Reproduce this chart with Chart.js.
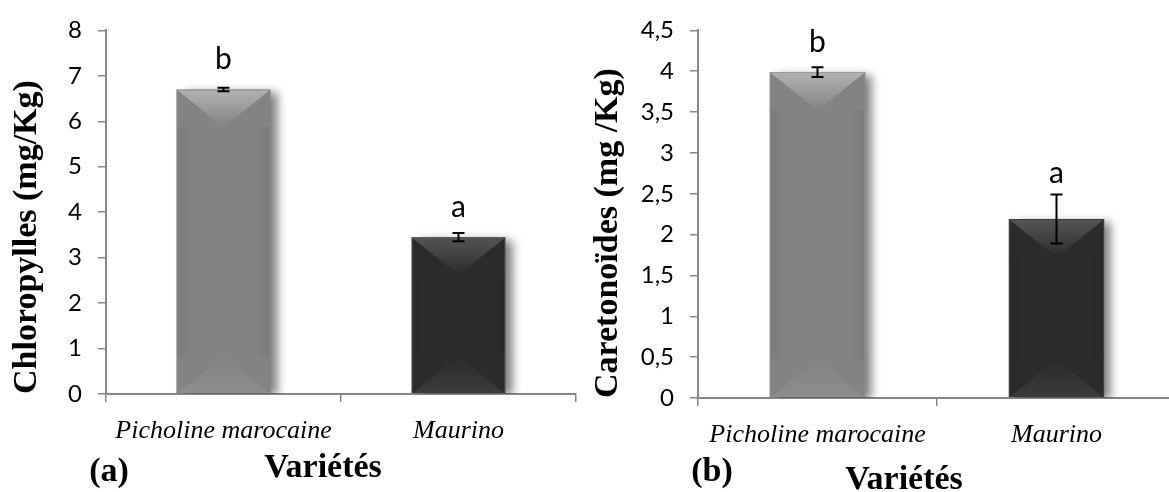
<!DOCTYPE html>
<html>
<head>
<meta charset="utf-8">
<script src="https://cdn.jsdelivr.net/npm/chart.js@4"></script>
<style>
  html, body { margin: 0; padding: 0; background: #fff; overflow: hidden; width: 1169px; height: 492px; }
  canvas { position: absolute; top: 0; }
  #chartA { left: 0; }
  #chartB { left: 585px; }
  .lbl { position: absolute; font-family: 'Liberation Serif', 'Times New Roman', serif; font-weight: bold;
         font-size: 34px; color: #000; transform: translate(-50%, -50%); white-space: nowrap; line-height: 1; }
</style>
</head>
<body>
<canvas id="chartA" width="585" height="492"></canvas>
<canvas id="chartB" width="600" height="492"></canvas>
<div class="lbl" style="left:109px; top:470px;">(a)</div>
<div class="lbl" style="left:323px; top:466px;">Variétés</div>
<div class="lbl" style="left:712px; top:470px;">(b)</div>
<div class="lbl" style="left:904px; top:478px;">Variétés</div>
<script>
// data
const varieties = ['Picholine marocaine', 'Maurino'];
const chlorophylls = [6.70, 3.45];
const chlorophyllsErr = [0.04, 0.09];
const chlorophyllsLetters = ['b', 'a'];
const carotenoids = [3.99, 2.19];
const carotenoidsErr = [0.06, 0.30];
const carotenoidsLetters = ['b', 'a'];
const ticksA = [0, 1, 2, 3, 4, 5, 6, 7, 8];
const ticksB = [0, 0.5, 1, 1.5, 2, 2.5, 3, 3.5, 4, 4.5];

const barColors = ['#838383', '#2b2b2b'];
const barBorders = ['#9a9a9a', '#3a3a3a'];
const topShine = [0.38, 0.2];
const axisGrey = '#878787';

// shadow, bevel, error bars and letters
const barDecor = {
  id: 'barDecor',
  beforeDatasetsDraw(chart) {
    const ctx = chart.ctx, area = chart.chartArea;
    ctx.save();
    ctx.beginPath();
    ctx.rect(area.left, area.top - 5, area.right - area.left + 20, area.bottom - area.top + 5);
    ctx.clip();
    chart.getDatasetMeta(0).data.forEach((bar) => {
      const { x, y, base, width } = bar.getProps(['x', 'y', 'base', 'width'], true);
      ctx.save();
      ctx.shadowColor = 'rgba(0,0,0,0.5)';
      ctx.shadowBlur = 9;
      ctx.shadowOffsetX = 7;
      ctx.shadowOffsetY = 3;
      ctx.fillStyle = '#777';
      ctx.fillRect(x - width / 2, y, width, base - y);
      ctx.restore();
    });
    ctx.restore();
  },
  afterDatasetsDraw(chart, args, opts) {
    const ctx = chart.ctx;
    const yScale = chart.scales.y;
    const vals = chart.data.datasets[0].data;
    chart.getDatasetMeta(0).data.forEach((bar, i) => {
      const { x, y, base, width } = bar.getProps(['x', 'y', 'base', 'width'], true);
      const L = x - width / 2 + 1, R = x + width / 2 - 1, d = width * 0.4;
      ctx.save();
      // top bevel
      let g = ctx.createLinearGradient(0, y, 0, y + d);
      g.addColorStop(0, 'rgba(255,255,255,' + topShine[i] + ')');
      g.addColorStop(1, 'rgba(255,255,255,0)');
      ctx.fillStyle = g;
      ctx.beginPath();
      ctx.moveTo(L, y + 1); ctx.lineTo(R, y + 1); ctx.lineTo(x, y + d); ctx.closePath();
      ctx.fill();
      // bottom bevel
      g = ctx.createLinearGradient(0, base, 0, base - d);
      g.addColorStop(0, 'rgba(255,255,255,0.08)');
      g.addColorStop(1, 'rgba(255,255,255,0)');
      ctx.fillStyle = g;
      ctx.beginPath();
      ctx.moveTo(L, base); ctx.lineTo(R, base); ctx.lineTo(x, base - d); ctx.closePath();
      ctx.fill();
      // side shading
      g = ctx.createLinearGradient(L, 0, R, 0);
      g.addColorStop(0, 'rgba(0,0,0,0.06)');
      g.addColorStop(0.15, 'rgba(0,0,0,0)');
      g.addColorStop(0.85, 'rgba(0,0,0,0)');
      g.addColorStop(1, 'rgba(0,0,0,0.06)');
      ctx.fillStyle = g;
      ctx.fillRect(L, y + d, R - L, base - y - 2 * d);
      ctx.restore();

      // error bar
      const e = opts.err[i];
      const yHi = yScale.getPixelForValue(vals[i] + e);
      const yLo = yScale.getPixelForValue(vals[i] - e);
      ctx.save();
      ctx.strokeStyle = '#000';
      ctx.lineWidth = 2;
      ctx.beginPath();
      ctx.moveTo(x, yHi); ctx.lineTo(x, yLo);
      ctx.moveTo(x - 6, yHi); ctx.lineTo(x + 6, yHi);
      ctx.moveTo(x - 6, yLo); ctx.lineTo(x + 6, yLo);
      ctx.stroke();
      // significance letter
      ctx.fillStyle = '#000';
      ctx.font = '30px Lato, "Open Sans", sans-serif';
      ctx.textAlign = 'center';
      ctx.textBaseline = 'alphabetic';
      ctx.fillText(opts.letters[i], x, Math.min(y - 20, yHi - 12));
      ctx.restore();
    });
  }
};

function makeChart(id, values, err, letters, ticks, yTitle, yWidth, xHeight, padTop, titlePad) {
  return new Chart(document.getElementById(id), {
    type: 'bar',
    data: {
      labels: varieties,
      datasets: [{
        data: values,
        backgroundColor: barColors,
        borderColor: barBorders,
        borderWidth: 1,
        categoryPercentage: 1,
        barPercentage: 0.4
      }]
    },
    options: {
      responsive: false,
      animation: false,
      layout: { padding: { top: padTop, right: 9, left: 0, bottom: 0 } },
      plugins: {
        legend: { display: false },
        tooltip: { enabled: false },
        barDecor: { err: err, letters: letters }
      },
      scales: {
        x: {
          afterFit: (s) => { s.height = xHeight; },
          grid: { drawOnChartArea: false, offset: true, tickLength: 8, color: axisGrey, lineWidth: 1.5 },
          border: { color: axisGrey, width: 2 },
          ticks: {
            color: '#000', padding: 14, maxRotation: 0, autoSkip: false,
            font: { family: "'Liberation Serif', 'Times New Roman', serif", style: 'italic', size: 26 }
          }
        },
        y: {
          min: ticks[0],
          max: ticks[ticks.length - 1],
          afterBuildTicks: (s) => { s.ticks = ticks.map((v) => ({ value: v })); },
          afterFit: (s) => { s.width = yWidth; },
          grid: { drawOnChartArea: false, tickLength: 8, color: axisGrey, lineWidth: 1.5 },
          border: { color: axisGrey, width: 2 },
          ticks: {
            color: '#000', padding: 16,
            font: { family: "Lato, 'Open Sans', sans-serif", size: 24 },
            callback: (v) => String(v).replace('.', ',')
          },
          title: {
            display: true,
            text: yTitle,
            align: 'start',
            color: '#000',
            padding: { top: titlePad, bottom: 0 },
            font: { family: "'Liberation Serif', 'Times New Roman', serif", weight: 'bold', size: 34, lineHeight: 1 }
          }
        }
      }
    },
    plugins: [barDecor]
  });
}

makeChart('chartA', chlorophylls, chlorophyllsErr, chlorophyllsLetters, ticksA,
  'Chloropylles (mg/Kg)', 106, 98, 20, 10);
makeChart('chartB', carotenoids, carotenoidsErr, carotenoidsLetters, ticksB,
  'Caretonoïdes (mg /Kg)', 113, 94, 21, 6);
</script>
</body>
</html>
